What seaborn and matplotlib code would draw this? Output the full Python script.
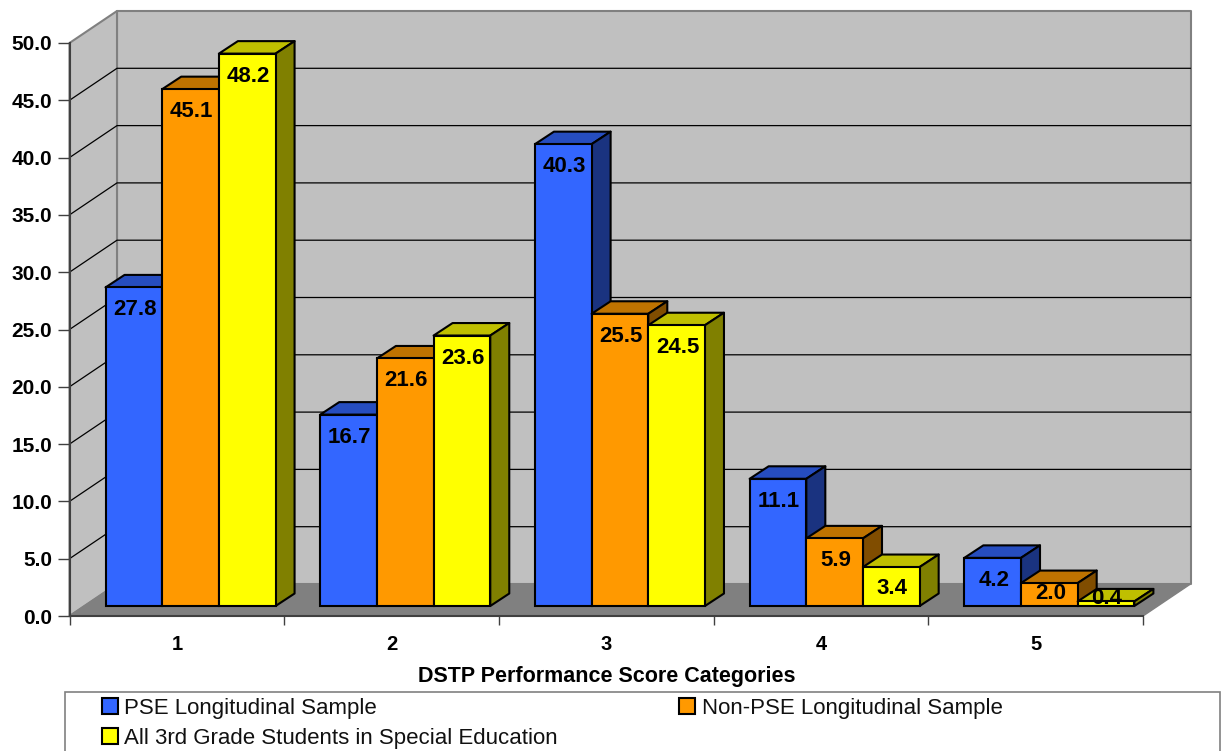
import numpy as np
import pandas as pd
import matplotlib
matplotlib.use('Agg')
import matplotlib.pyplot as plt
from matplotlib.colors import to_rgb
from matplotlib.patches import Patch, Polygon, Rectangle
from matplotlib.transforms import Affine2D, IdentityTransform
import seaborn as sns

# values
aCategory = ['1', '2', '3', '4', '5']
aPse = [27.8, 16.7, 40.3, 11.1, 4.2]
aNonPse = [45.1, 21.6, 25.5, 5.9, 2.0]
aAllGrade3 = [48.2, 23.6, 24.5, 3.4, 0.4]
aSeries = ['PSE Longitudinal Sample', 'Non-PSE Longitudinal Sample',
           'All 3rd Grade Students in Special Education']
aColor = ['#3366FF', '#FF9900', '#FFFF00']
aTick = [0, 5, 10, 15, 20, 25, 30, 35, 40, 45, 50]
sXlabel = 'DSTP Performance Score Categories'

iWidth, iHeight = 1228, 751
sFont = 'Liberation Sans'

sns.set_theme(style='white')
plt.rcParams['font.family'] = [sFont, 'DejaVu Sans']

df = pd.DataFrame({
    'category': aCategory * 3,
    'series': np.repeat(aSeries, 5),
    'value': aPse + aNonPse + aAllGrade3,
})

fig = plt.figure(figsize=(iWidth / 100, iHeight / 100), dpi=100)
# axes is the front plane of the 3d box
ax = fig.add_axes([69.5 / iWidth, 1 - 616 / iHeight, 1073.5 / iWidth, 573 / iHeight])
ax.patch.set_alpha(0)

sns.barplot(data=df, x='category', y='value', hue='series', hue_order=aSeries,
            palette=aColor, saturation=1, width=0.792, gap=0, legend=False,
            edgecolor='black', linewidth=1.5, ax=ax)
aBar = sorted(ax.patches, key=lambda p: p.get_x())

ax.set_xlim(-0.5, 4.5)
ax.set_ylim(0, 50)

identity = IdentityTransform()


def add_face(aPoint, color, edge, lw, zorder):
    face = Polygon(aPoint, closed=True, facecolor=color, edgecolor=edge, linewidth=lw,
                   transform=identity, zorder=zorder, clip_on=False, joinstyle='round')
    ax.add_patch(face)


def to_px(x, y, dx=0, dy=0):
    p = ax.transData.transform((x, y))
    return (p[0] + dx, p[1] + dy)


def scale_color(color, f):
    return tuple(c * f for c in to_rgb(color))


# walls, floor and gridlines
wx, wy = 47.5, 32
add_face([to_px(-0.5, 50, wx, wy), to_px(4.5, 50, wx, wy), to_px(4.5, 0, wx, wy), to_px(-0.5, 0, wx, wy)],
         '#C0C0C0', '#808080', 1.5, 0.1)
add_face([to_px(-0.5, 0), to_px(-0.5, 50), to_px(-0.5, 50, wx, wy), to_px(-0.5, 0, wx, wy)],
         '#C0C0C0', '#808080', 1.5, 0.1)
add_face([to_px(-0.5, 0), to_px(-0.5, 0, wx, wy), to_px(4.5, 0, wx, wy), to_px(4.5, 0)],
         '#808080', '#808080', 1.0, 0.2)
for dTick in aTick[1:-1]:
    p0, p1, p2 = to_px(-0.5, dTick), to_px(-0.5, dTick, wx, wy), to_px(4.5, dTick, wx, wy)
    ax.plot([p0[0], p1[0], p2[0]], [p0[1], p1[1], p2[1]], color='black', lw=0.9,
            transform=identity, zorder=0.3, clip_on=False)

# bars sit a little behind the front plane
bx, by = 13.7, 10.0
ddx, ddy = 19, 12.5
shift = ax.transData + Affine2D().translate(bx, by)
iOrder = 1
for bar, sColor in zip(aBar, [c for i in range(5) for c in aColor]):
    x0, x1 = bar.get_x(), bar.get_x() + bar.get_width()
    h = bar.get_height()
    aLow = to_px(x0, 0, bx, by), to_px(x1, 0, bx, by)
    aTop = to_px(x0, h, bx, by), to_px(x1, h, bx, by)
    add_face([aTop[0], aTop[1], (aTop[1][0] + ddx, aTop[1][1] + ddy), (aTop[0][0] + ddx, aTop[0][1] + ddy)],
             scale_color(sColor, 0.75), 'black', 1.5, iOrder)
    add_face([aLow[1], aTop[1], (aTop[1][0] + ddx, aTop[1][1] + ddy), (aLow[1][0] + ddx, aLow[1][1] + ddy)],
             scale_color(sColor, 0.5), 'black', 1.5, iOrder + 0.1)
    bar.set_transform(shift)
    bar.set_clip_on(False)
    bar.set_zorder(iOrder + 0.2)
    iOrder = iOrder + 1

# value labels
for bar in aBar:
    h = bar.get_height()
    dPx = to_px(0, h)[1] - to_px(0, 0)[1]
    dDrop = min(20, 0.73 * dPx - 9)
    pos = to_px(bar.get_x() + bar.get_width() / 2, h, bx + 1, by - dDrop)
    ax.text(pos[0], pos[1], '%.1f' % h, transform=identity, ha='center', va='center_baseline',
            fontsize=16, fontweight='bold', color='black', zorder=50)

# axes
sns.despine(ax=ax, top=True, right=True)
for s in ['left', 'bottom']:
    ax.spines[s].set_color('#404040')
    ax.spines[s].set_linewidth(1.5)
    ax.spines[s].set_zorder(0.5)
ax.set_yticks(aTick, ['%.1f' % t for t in aTick], fontsize=15, fontweight='bold', color='black')
ax.set_xticks(range(5), aCategory, fontsize=14.5, fontweight='bold', color='black')
ax.set_xticks(np.arange(-0.5, 5, 1), minor=True)
ax.tick_params(axis='y', which='major', length=8.5, width=1, color='#404040', left=True, pad=4)
ax.tick_params(axis='x', which='major', length=0, pad=13.5)
ax.tick_params(axis='x', which='minor', length=6.5, width=1, color='#404040', bottom=True)
ax.set_xlabel(sXlabel, fontsize=15.5, fontweight='bold', color='black', labelpad=8.6)
ax.set_ylabel('')

# legend box runs off the bottom of the image
fig.add_artist(Rectangle((65, iHeight - 770), 1154.5, 770 - 691.5 + 0, transform=identity, facecolor='white',
                         edgecolor='#808080', linewidth=1.2, clip_on=True))
# columns fill top down, so the third series goes second to sit under the first
aOrder = [0, 2, 1]
aHandle = [Patch(facecolor=aColor[i], edgecolor='black', linewidth=1.5) for i in aOrder]
leg = fig.legend(aHandle, [aSeries[i] for i in aOrder], ncol=2, frameon=False, loc='upper left',
                 bbox_to_anchor=(95 / iWidth, 1 - 691.5 / iHeight), fontsize=16,
                 handlelength=0.72, handleheight=0.72, handletextpad=0.3,
                 columnspacing=5.45, labelspacing=0.4, borderpad=0.3, borderaxespad=0,
                 labelcolor='#111111')
leg.set_zorder(5)

fig.savefig('out.png', dpi=100)
